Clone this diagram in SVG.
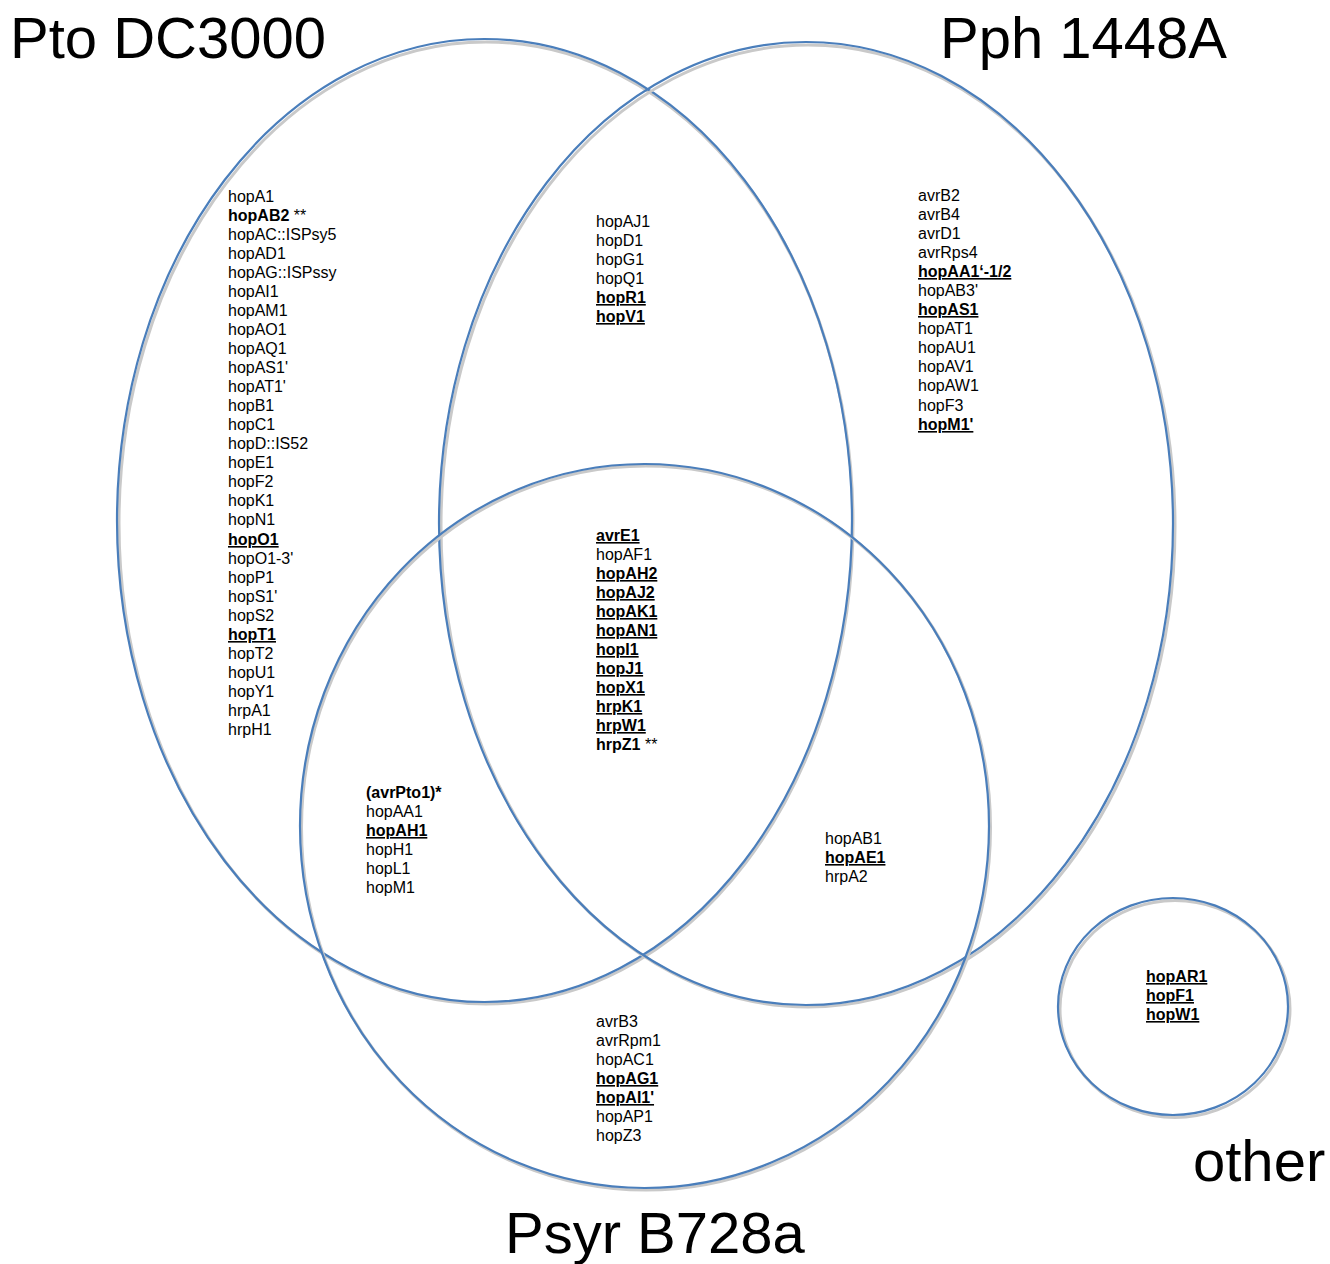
<svg xmlns="http://www.w3.org/2000/svg" width="1330" height="1264" viewBox="0 0 1330 1264">
<style>
.sh{fill:none;stroke:#c9c9c9;stroke-width:3}
.el{fill:none;stroke:#4a7ebb;stroke-width:2.2}
text{font-family:"Liberation Sans",Arial,sans-serif;fill:#000}
.t{font-size:16px}
.b{font-weight:bold}
.u{font-weight:bold;text-decoration:underline}
.h{font-size:58px}
</style>
<rect width="1330" height="1264" fill="#fff"/>
<g id="connectors"></g>
<g id="pto">
<ellipse class="sh" cx="486" cy="523" rx="367" ry="481"/>
<ellipse class="el" cx="484.5" cy="520.5" rx="367.5" ry="481.5"/>
<text class="h" x="10" y="58">Pto DC3000</text>
<g class="t">
<text x="228" y="202">hopA1</text>
<text x="228" y="221"><tspan class="b">hopAB2</tspan> **</text>
<text x="228" y="240">hopAC::ISPsy5</text>
<text x="228" y="259">hopAD1</text>
<text x="228" y="278">hopAG::ISPssy</text>
<text x="228" y="297">hopAI1</text>
<text x="228" y="316">hopAM1</text>
<text x="228" y="335">hopAO1</text>
<text x="228" y="354">hopAQ1</text>
<text x="228" y="373">hopAS1'</text>
<text x="228" y="392">hopAT1'</text>
<text x="228" y="411">hopB1</text>
<text x="228" y="430">hopC1</text>
<text x="228" y="449">hopD::IS52</text>
<text x="228" y="468">hopE1</text>
<text x="228" y="487">hopF2</text>
<text x="228" y="506">hopK1</text>
<text x="228" y="525">hopN1</text>
<text x="228" y="545" class="u">hopO1</text>
<text x="228" y="564">hopO1-3'</text>
<text x="228" y="583">hopP1</text>
<text x="228" y="602">hopS1'</text>
<text x="228" y="621">hopS2</text>
<text x="228" y="640" class="u">hopT1</text>
<text x="228" y="659">hopT2</text>
<text x="228" y="678">hopU1</text>
<text x="228" y="697">hopY1</text>
<text x="228" y="716">hrpA1</text>
<text x="228" y="735">hrpH1</text>
</g>
</g>
<g id="pph">
<ellipse class="sh" cx="808" cy="526" rx="367" ry="481"/>
<ellipse class="el" cx="806" cy="523.5" rx="367" ry="481.5"/>
<text class="h" x="940" y="58">Pph 1448A</text>
<g class="t">
<text x="918" y="201">avrB2</text>
<text x="918" y="220">avrB4</text>
<text x="918" y="239">avrD1</text>
<text x="918" y="258">avrRps4</text>
<text x="918" y="277" class="u">hopAA1‘-1/2</text>
<text x="918" y="296">hopAB3'</text>
<text x="918" y="315" class="u">hopAS1</text>
<text x="918" y="334">hopAT1</text>
<text x="918" y="353">hopAU1</text>
<text x="918" y="372">hopAV1</text>
<text x="918" y="391">hopAW1</text>
<text x="918" y="411">hopF3</text>
<text x="918" y="430" class="u">hopM1'</text>
</g>
</g>
<g id="psyr">
<ellipse class="sh" cx="646" cy="828" rx="344.5" ry="362"/>
<ellipse class="el" cx="644.5" cy="826" rx="344.5" ry="362"/>
<text class="h" x="505" y="1253">Psyr B728a</text>
<g class="t">
<text x="596" y="1027">avrB3</text>
<text x="596" y="1046">avrRpm1</text>
<text x="596" y="1065">hopAC1</text>
<text x="596" y="1084" class="u">hopAG1</text>
<text x="596" y="1103" class="u">hopAI1'</text>
<text x="596" y="1122">hopAP1</text>
<text x="596" y="1141">hopZ3</text>
</g>
</g>
<g id="pto-pph" class="t">
<text x="596" y="227">hopAJ1</text>
<text x="596" y="246">hopD1</text>
<text x="596" y="265">hopG1</text>
<text x="596" y="284">hopQ1</text>
<text x="596" y="303" class="u">hopR1</text>
<text x="596" y="322" class="u">hopV1</text>
</g>
<g id="all-three" class="t">
<text x="596" y="541" class="u">avrE1</text>
<text x="596" y="560">hopAF1</text>
<text x="596" y="579" class="u">hopAH2</text>
<text x="596" y="598" class="u">hopAJ2</text>
<text x="596" y="617" class="u">hopAK1</text>
<text x="596" y="636" class="u">hopAN1</text>
<text x="596" y="655" class="u">hopI1</text>
<text x="596" y="674" class="u">hopJ1</text>
<text x="596" y="693" class="u">hopX1</text>
<text x="596" y="712" class="u">hrpK1</text>
<text x="596" y="731" class="u">hrpW1</text>
<text x="596" y="750"><tspan class="b">hrpZ1</tspan> **</text>
</g>
<g id="pto-psyr" class="t">
<text x="366" y="798" class="b">(avrPto1)*</text>
<text x="366" y="817">hopAA1</text>
<text x="366" y="836" class="u">hopAH1</text>
<text x="366" y="855">hopH1</text>
<text x="366" y="874">hopL1</text>
<text x="366" y="893">hopM1</text>
</g>
<g id="pph-psyr" class="t">
<text x="825" y="844">hopAB1</text>
<text x="825" y="863" class="u">hopAE1</text>
<text x="825" y="882">hrpA2</text>
</g>
<g id="other">
<ellipse class="sh" cx="1175" cy="1009" rx="115" ry="108.5"/>
<ellipse class="el" cx="1173" cy="1006.5" rx="115" ry="108.5"/>
<text class="h" x="1193" y="1181">other</text>
<g class="t">
<text x="1146" y="982" class="u">hopAR1</text>
<text x="1146" y="1001" class="u">hopF1</text>
<text x="1146" y="1020" class="u">hopW1</text>
</g>
</g>
</svg>
